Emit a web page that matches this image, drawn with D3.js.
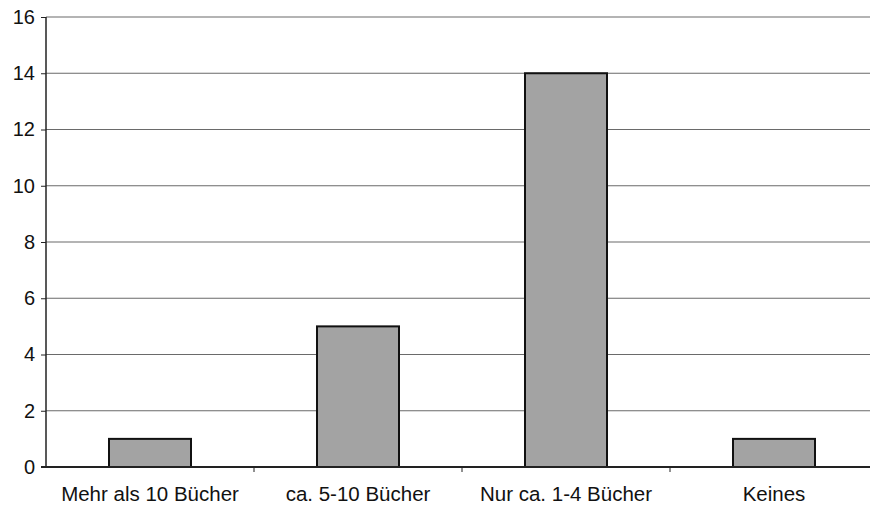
<html>
<head>
	<meta charset="utf-8">
	<script src="https://d3js.org/d3.v7.min.js"></script>
	<style>
		body { margin: 0; background: #fff; }
		text { font-family: Arial, "Liberation Sans", sans-serif; }
	</style>
</head>
<body>
	<script type="text/javascript">
		var width = 870, height = 508;

		// data
		var categories = ["Mehr als 10 Bücher", "ca. 5-10 Bücher", "Nur ca. 1-4 Bücher", "Keines"];
		var values = [1, 5, 14, 1];
		var yTicks = [0, 2, 4, 6, 8, 10, 12, 14, 16];

		var svg = d3.select("body").append("svg")
			.attr("width", width)
			.attr("height", height);

		var plotLeft = 46, plotRight = 878, plotTop = 17, plotBottom = 467;

		var xScale = d3.scaleBand().domain(categories).range([plotLeft, plotRight]).paddingInner(0).paddingOuter(0);
		var yScale = d3.scaleLinear().domain([0, 16]).range([plotBottom, plotTop]);

		// gridlines
		svg.append("g").selectAll("line")
			.data(yTicks.filter(function(d) { return d > 0; }))
			.enter().append("line")
			.attr("x1", plotLeft).attr("x2", plotRight)
			.attr("y1", function(d) { return yScale(d); })
			.attr("y2", function(d) { return yScale(d); })
			.attr("stroke", "#6a6a6a")
			.attr("stroke-width", 1.2);

		// bars
		var barW = 82;
		svg.append("g").selectAll("rect")
			.data(values)
			.enter().append("rect")
			.attr("x", function(d, i) { return xScale(categories[i]) + xScale.bandwidth() / 2 - barW / 2; })
			.attr("y", function(d) { return yScale(d); })
			.attr("width", barW)
			.attr("height", function(d) { return yScale(0) - yScale(d); })
			.attr("fill", "#a3a3a3")
			.attr("stroke", "#111")
			.attr("stroke-width", 2);

		// y axis
		var yAxis = d3.axisLeft(yScale).tickValues(yTicks).tickSize(5).tickPadding(6);
		var gy = svg.append("g")
			.attr("transform", "translate(" + plotLeft + ",0)")
			.call(yAxis);
		gy.select(".domain").attr("stroke", "#222").attr("stroke-width", 1.5).attr("d", "M0," + plotTop + "V" + plotBottom);
		gy.selectAll(".tick line").attr("stroke", "#222");
		gy.selectAll(".tick text").attr("font-size", 20).attr("fill", "#111").attr("font-family", "Arial, 'Liberation Sans', sans-serif");

		// x axis
		var xAxis = d3.axisBottom(xScale).tickSize(0).tickPadding(19);
		var gx = svg.append("g")
			.attr("transform", "translate(0," + plotBottom + ")")
			.call(xAxis);
		gx.select(".domain").attr("stroke", "#222").attr("stroke-width", 2).attr("d", "M" + (plotLeft - 5) + ",0H" + plotRight);
		gx.selectAll(".tick text").attr("font-size", 20.5).attr("fill", "#111").attr("font-family", "Arial, 'Liberation Sans', sans-serif");

		// category boundary ticks
		gx.append("g").selectAll("line")
			.data(categories.slice(1))
			.enter().append("line")
			.attr("x1", function(d) { return xScale(d); })
			.attr("x2", function(d) { return xScale(d); })
			.attr("y1", 0).attr("y2", 5)
			.attr("stroke", "#222");
	</script>
</body>
</html>
